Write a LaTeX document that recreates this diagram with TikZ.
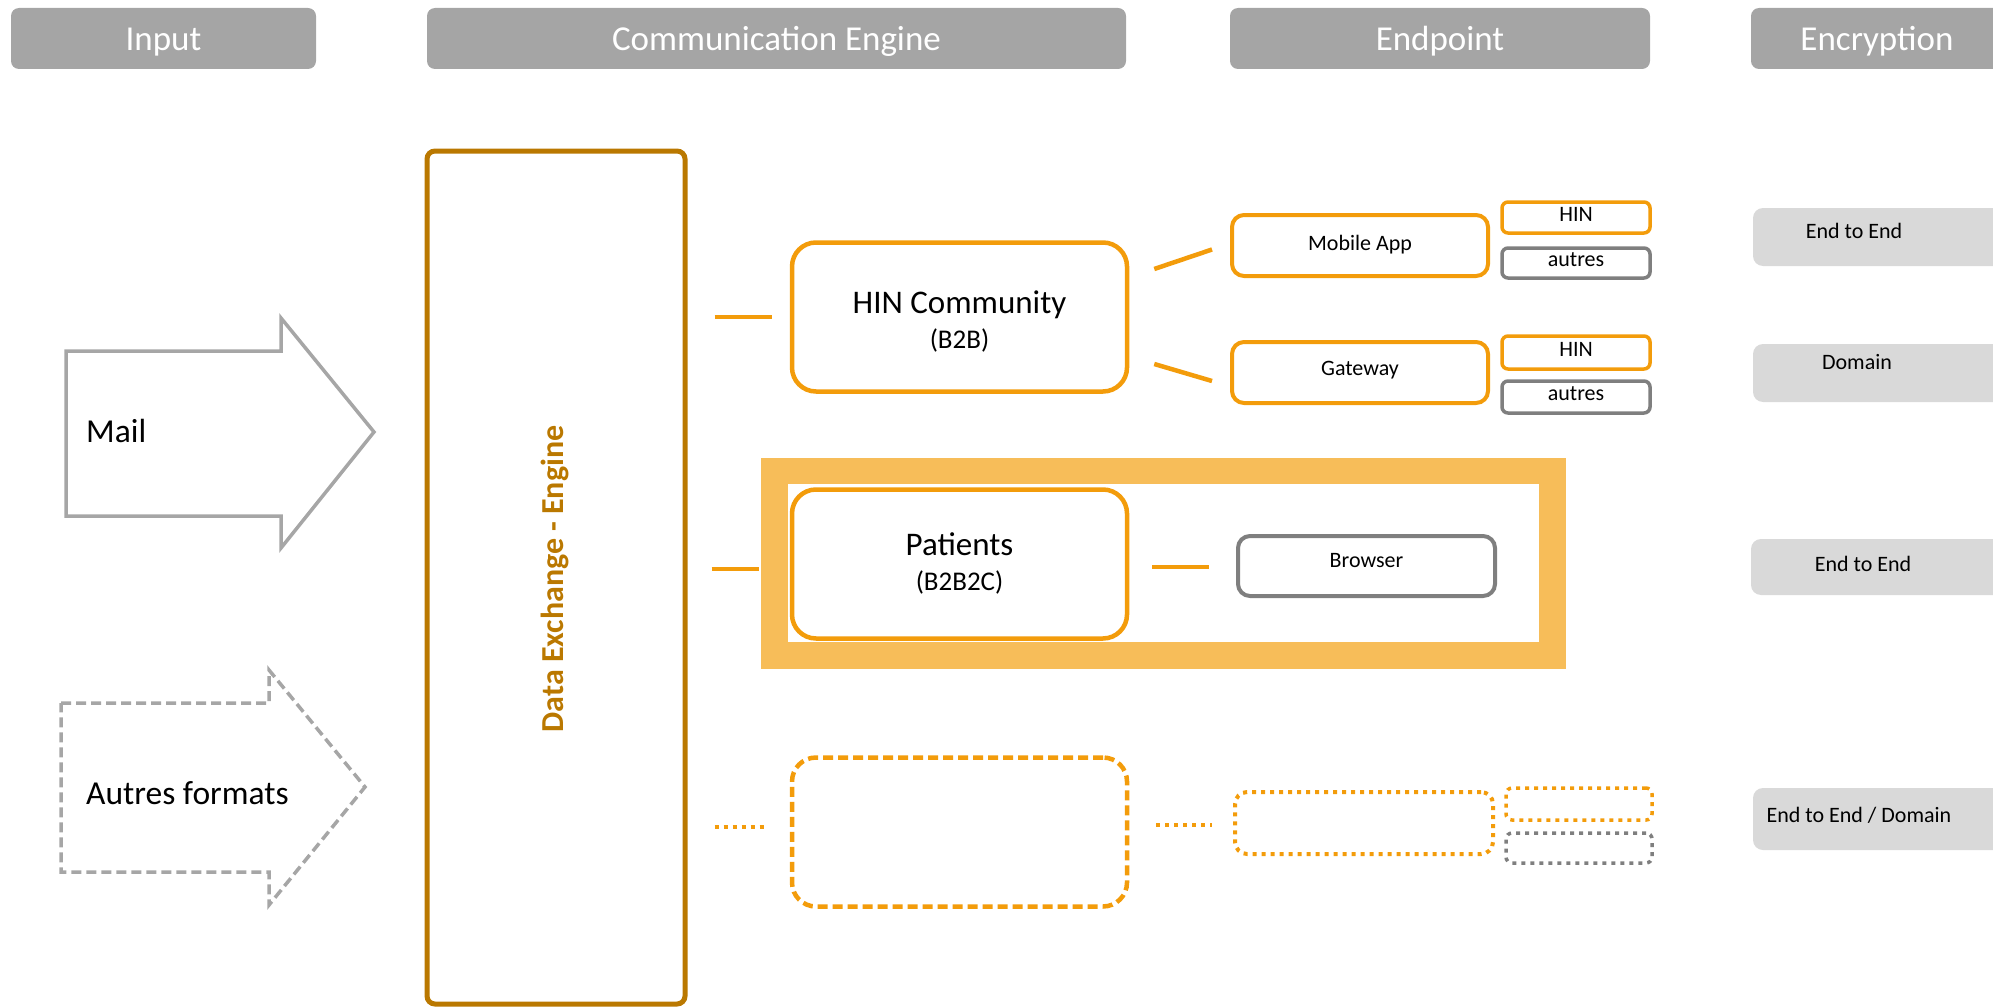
\documentclass[tikz,border=0pt]{standalone}
\usepackage{fontspec}
\setmainfont{Carlito}
\definecolor{hdr}{HTML}{A5A5A5}
\definecolor{org}{HTML}{F39C0B}
\definecolor{gold}{HTML}{BA7800}
\definecolor{hl}{HTML}{F7BD59}
\definecolor{gbox}{HTML}{7F7F7F}
\definecolor{arr}{HTML}{A6A6A6}
\definecolor{enc}{HTML}{D9D9D9}
\newcommand{\fsz}[1]{\fontsize{#1}{#1}\selectfont}
\begin{document}
\begin{tikzpicture}[x=1pt,y=-1pt,
  hdrbox/.style={fill=hdr, rounded corners=8pt, text=white, font=\fsz{35}, inner sep=0pt, minimum height=61pt, text height=31pt, text depth=7pt},
  obox/.style={draw=org, line width=4.5pt, rounded corners=24pt, fill=white, inner sep=0pt, minimum width=335pt, minimum height=149pt},
  boxlabel/.style={align=center, inner sep=0pt, font=\fontsize{33}{37}\selectfont},
  mbox/.style={draw=org, line width=4pt, rounded corners=12pt, font=\fsz{22}, inner sep=0pt, minimum width=256pt, minimum height=61pt, text height=15pt, text depth=9pt},
  sbox/.style={draw=org, line width=3.5pt, rounded corners=6pt, font=\fsz{22}, inner sep=0pt, minimum width=148pt, text height=15pt, text depth=8pt},
  gsbox/.style={sbox, draw=gbox},
  encbox/.style={fill=enc, rounded corners=10pt, minimum width=250pt, inner sep=0pt},
  enctext/.style={font=\fsz{22}, inner sep=0pt},
  conn/.style={draw=org, line width=4.5pt},
  dotline/.style={draw=org, line width=4pt, dash pattern=on 4pt off 5pt},
  arrowshape/.style={draw=arr, line width=3.5pt, line join=miter},
  bigtext/.style={font=\fsz{33.5}, inner sep=0pt, anchor=west}
]
\useasboundingbox (0,0) rectangle (1993,1006);

% headers
\node[hdrbox, minimum width=305pt] (hIn) at (163.5,38.5) {Input};
\node[hdrbox, minimum width=699pt] (hCE) at (776.5,38.5) {Communication Engine};
\node[hdrbox, minimum width=420pt] (hEP) at (1440,38.5) {Endpoint};
\node[hdrbox, minimum width=252pt] (hEn) at (1877,38.5) {Encryption};

% input arrows
\draw[arrowshape] (66,351) -- (281,351) -- (281,318) -- (374,432) -- (281,548) -- (281,516) -- (66,516) -- cycle;
\node[bigtext] (mail) at (86,431) {Mail};
\draw[arrowshape, dash pattern=on 10pt off 5pt] (61,703) -- (269,703) -- (269,670) -- (365,787) -- (269,905) -- (269,872) -- (61,872) -- cycle;
\node[bigtext] (autresf) at (86,793) {Autres formats};

% data exchange engine
\node[draw=gold, line width=5pt, rounded corners=8pt, minimum width=258pt, minimum height=853pt, inner sep=0pt] (de) at (556,577.5) {};
\node[rotate=90, font=\bfseries\fsz{32}, text=gold, inner sep=0pt] (detext) at (555,579) {Data Exchange - Engine};

% highlight frame
\node[draw=hl, line width=26.5pt, minimum width=778pt, minimum height=184.5pt, inner sep=0pt] (frame) at (1163.5,563.25) {};

% communication nodes
\node[obox] (hinc) at (959.5,317) {};
\node[boxlabel] (hinct) at (959.5,322) {HIN Community\\[-2pt]{\fontsize{27}{30}\selectfont (B2B)}};
\node[obox] (pat) at (959.5,564) {};
\node[boxlabel] (patt) at (959.5,563) {Patients\\[-2pt]{\fontsize{27}{30}\selectfont (B2B2C)}};
\node[obox, dash pattern=on 10pt off 5pt] (other) at (959.5,832) {};

% endpoints
\node[mbox, text height=15pt, text depth=6pt] (mob) at (1360,245.5) {Mobile App};
\node[mbox] (gw) at (1360,372.5) {Gateway};
\node[mbox, draw=gbox, minimum width=257pt, minimum height=60pt, text depth=12pt] (brw) at (1366.5,566) {Browser};
\node[mbox, dash pattern=on 4pt off 5pt, minimum width=258pt, minimum height=62pt] (dotep) at (1364,823) {};

\node[sbox, minimum height=31pt] (mhin) at (1576,217.5) {HIN};
\node[gsbox, minimum height=30pt] (maut) at (1576,263) {autres};
\node[sbox, minimum height=33pt] (ghin) at (1576,352.5) {HIN};
\node[gsbox, minimum height=32pt] (gaut) at (1576,397) {autres};
\node[sbox, dash pattern=on 4pt off 5pt, minimum width=146pt, minimum height=32pt] (dhin) at (1579,804) {};
\node[gsbox, dash pattern=on 4pt off 5pt, minimum width=146pt, minimum height=30pt] (daut) at (1579,848) {};

% encryption
\node[encbox, minimum height=58pt] (e1) at (1878,237) {};
\node[enctext] (e1t) at (1854,231) {End to End};
\node[encbox, minimum height=58pt] (e2) at (1878,373) {};
\node[enctext] (e2t) at (1857,362) {Domain};
\node[encbox, minimum height=56pt, minimum width=252pt] (e3) at (1877,567) {};
\node[enctext] (e3t) at (1863,564) {End to End};
\node[encbox, minimum height=62pt] (e4) at (1878,819) {};
\node[enctext] (e4t) at (1859,815) {End to End / Domain};

% connectors
\draw[conn, shorten <=27pt, shorten >=18pt] (de.east |- hinc.west) -- (hinc.west);
\draw[conn] ([xshift=25pt,yshift=48pt]hinc.east) -- ([xshift=-18pt,yshift=-4pt]mob.west);
\draw[conn] ([xshift=25pt,yshift=-47pt]hinc.east) -- ([xshift=-18pt,yshift=-8.5pt]gw.west);
\draw[conn, shorten <=24pt, shorten >=31pt] ([yshift=-5pt]de.east |- pat.west) -- ([yshift=-5pt]pat.west);
\draw[conn, shorten <=23pt, shorten >=27pt] ([yshift=-3pt]pat.east) -- ([yshift=-3pt]pat.east -| brw.west);
\draw[dotline, shorten <=27pt, shorten >=22pt] ([yshift=5pt]de.east |- other.west) -- ([yshift=5pt]other.west);
\draw[dotline, shorten <=27pt, shorten >=21pt] ([yshift=7pt]other.east) -- ([yshift=7pt]other.east -| dotep.west);
\end{tikzpicture}
\end{document}
